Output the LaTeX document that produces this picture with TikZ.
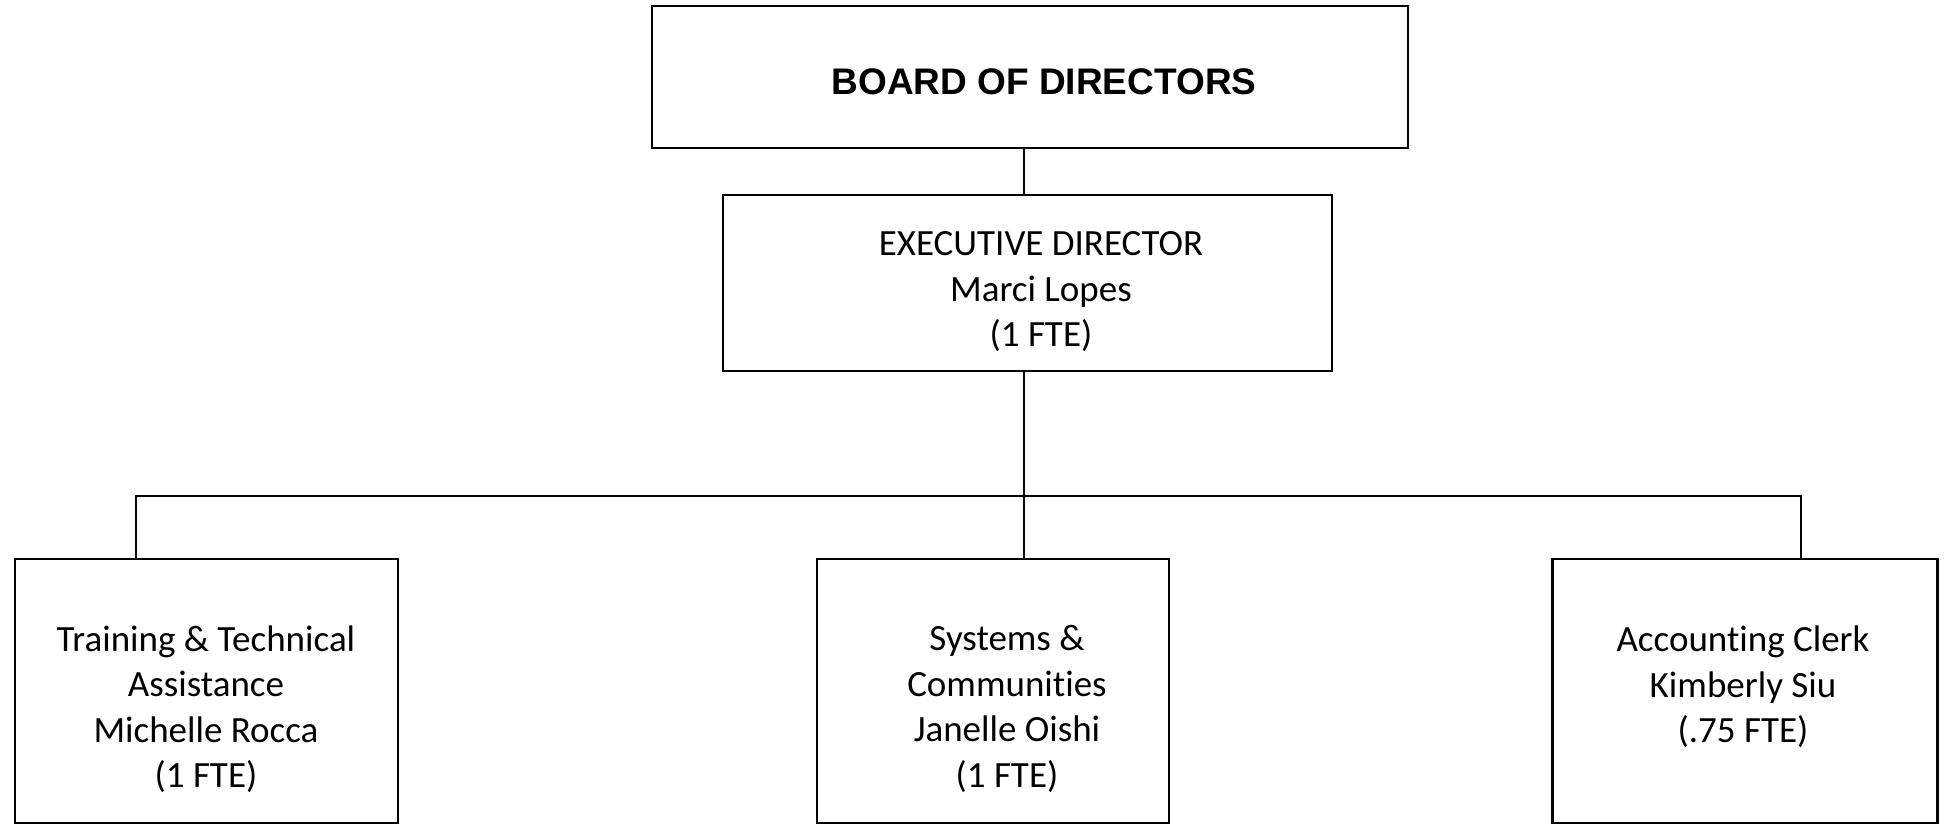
\documentclass[tikz,border=0pt]{standalone}
\usepackage{fontspec}
\setmainfont{Carlito}[Ligatures=NoCommon]
\newfontfamily\arialfont{Liberation Sans}
\begin{document}
\begin{tikzpicture}[x=1pt,y=-1pt,
  box/.style={draw=black,line width=2.2pt,fill=white,inner sep=0pt,rectangle},
  conn/.style={draw=black,line width=2pt},
  lbl/.style={align=center,inner sep=0pt,font=\fontsize{37}{45.5}\selectfont},
  title/.style={align=center,inner sep=0pt,font=\arialfont\bfseries\fontsize{37}{44}\selectfont}]
\useasboundingbox[fill=white] (0,0) rectangle (1944,826);
% boxes
\node[box,minimum width=756pt,minimum height=142pt] (board) at (1030,77) {};
\node[box,minimum width=609pt,minimum height=176pt] (exec) at (1027.5,283) {};
\node[box,minimum width=383pt,minimum height=264pt] (left) at (206.5,691) {};
\node[box,minimum width=352pt,minimum height=264pt] (mid) at (993,691) {};
\node[box,minimum width=385pt,minimum height=264pt] (right) at (1745,691) {};
% texts
\node[title] (tboard) at (1044,82) {BOARD OF DIRECTORS};
\node[lbl] (texec) at (1041,292) {EXECUTIVE DIRECTOR\\Marci Lopes\\(1 FTE)};
\node[lbl] (tleft) at (206,709) {Training \& Technical\\Assistance\\Michelle Rocca\\(1 FTE)};
\node[lbl] (tmid) at (1007,709) {Systems \&\\Communities\\Janelle Oishi\\(1 FTE)};
\node[lbl] (tright) at (1743,687) {Accounting Clerk\\Kimberly Siu\\(.75 FTE)};
% connectors
\coordinate (j) at (1024,496);
\coordinate (jl) at (136,496);
\coordinate (jr) at (1801,496);
\draw[conn] (board.south -| j) -- (exec.north -| j);
\draw[conn] (exec.south -| j) -- (mid.north -| j);
\draw[conn] (left.north -| jl) -- (jl) -- (jr) -- (right.north -| jr);
\end{tikzpicture}
\end{document}
